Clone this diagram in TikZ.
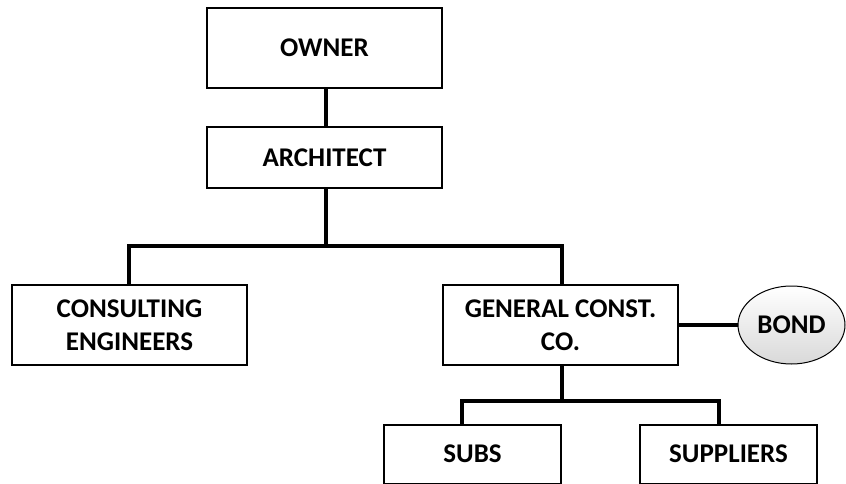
\documentclass[tikz,border=0pt]{standalone}
\usepackage{fontspec}
\setmainfont{Carlito}
\usetikzlibrary{shapes.geometric}
\begin{document}
\begin{tikzpicture}[x=1pt,y=-1pt,
  lbl/.style={font=\fontsize{27}{33}\selectfont\bfseries},
  box/.style={draw=black,line width=2pt,fill=white,inner sep=0pt,align=center,lbl},
  conn/.style={draw=black,line width=3.2pt}]
\useasboundingbox (0,0) rectangle (846,484);
\node[box,minimum width=235,minimum height=80] (owner) at (324.5,48) {OWNER};
\node[box,minimum width=235,minimum height=61] (arch) at (324.5,157.5) {ARCHITECT};
\node[box,minimum width=235,minimum height=80] (ce) at (129.5,325) {CONSULTING\\ENGINEERS};
\node[box,minimum width=235,minimum height=80] (gc) at (560.5,325) {GENERAL CONST.\\CO.};
\node[ellipse,draw=black,line width=1pt,top color=white,bottom color=gray!30,minimum width=107,minimum height=78,inner sep=0pt,lbl] (bond) at (791.5,325) {BOND};
\node[box,minimum width=177,minimum height=59] (subs) at (472.5,454) {SUBS};
\node[box,minimum width=177,minimum height=59] (sup) at (728.5,454) {SUPPLIERS};
\coordinate (j1) at (326,246);
\coordinate (j2) at (562,401);
\draw[conn] (owner.south -| 326,0) -- (arch.north -| 326,0);
\draw[conn] (arch.south -| j1) -- (j1);
\draw[conn] (ce.north -| 129,0) |- (j1) -| (gc.north -| 562,0);
\draw[conn] (gc.east) -- (bond.west);
\draw[conn] (gc.south -| j2) -- (j2);
\draw[conn] (subs.north -| 462,0) |- (j2) -| (sup.north -| 719,0);
\end{tikzpicture}
\end{document}
